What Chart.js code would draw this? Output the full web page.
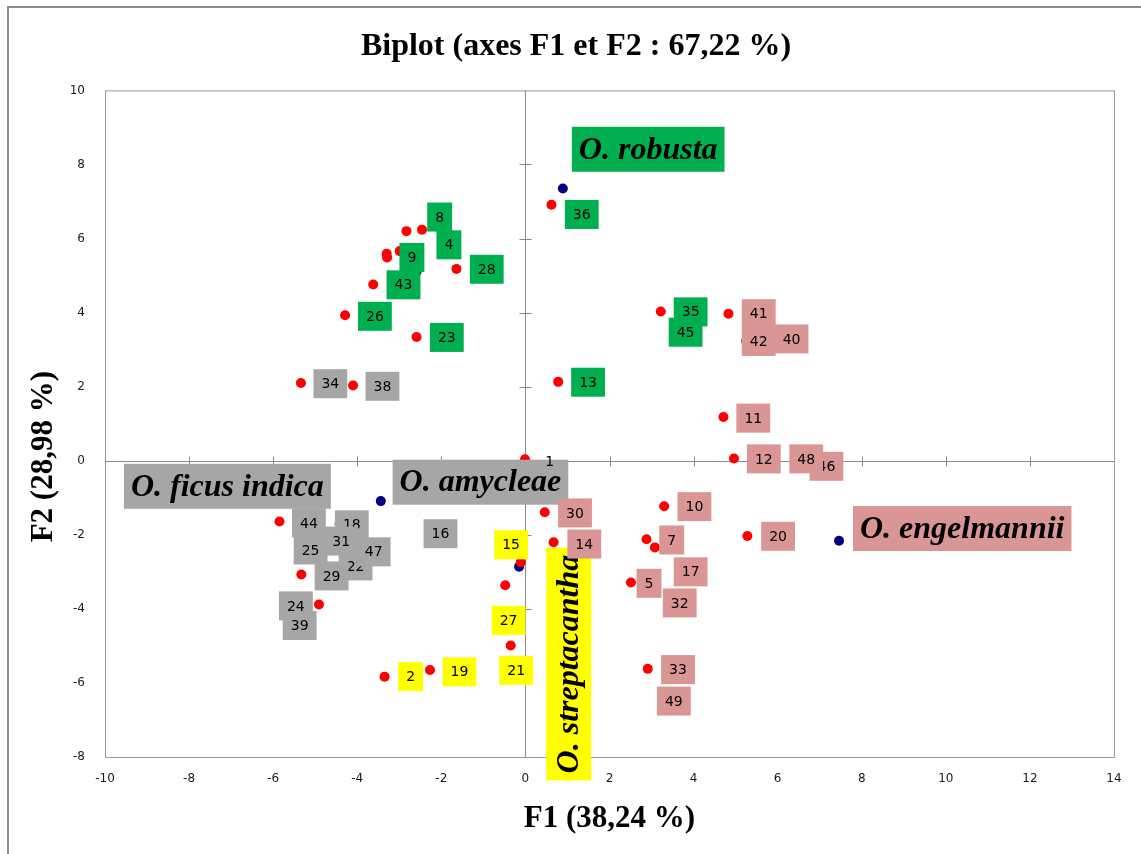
<!DOCTYPE html>
<html>
<head>
<meta charset="utf-8">
<title>Biplot (axes F1 et F2)</title>
<script src="https://cdn.jsdelivr.net/npm/chart.js@4.4.1/dist/chart.umd.min.js"></script>
<style>
  html, body { margin: 0; padding: 0; background: #fff; }
  #wrap { width: 1141px; height: 854px; position: relative; }
</style>
</head>
<body>
<div id="wrap"><canvas id="biplot"></canvas></div>
<script>
const xTicks = [-10, -8, -6, -4, -2, 0, 2, 4, 6, 8, 10, 12, 14]
const yTicks = [-8, -6, -4, -2, 0, 2, 4, 6, 8, 10]

// observations, grouped by species colour (draw order = label stacking order)
const robustaObs   = ['6', '37', '8', '4', '9', '43', '28', '26', '23', '36', '35', '45', '13']
const robustaF1    = [-2.46, -3.30, -2.83, -2.99, -3.29, -3.62, -1.64, -4.29, -2.59, 0.62, 3.22, 3.58, 0.78]
const robustaF2    = [6.24, 5.59, 6.20, 5.66, 5.49, 4.76, 5.18, 3.93, 3.34, 6.91, 4.03, 3.42, 2.13]
const robustaLblF1 = [-1.88, -2.59, -2.04, -1.82, -2.70, -2.90, -0.92, -3.58, -1.87, 1.34, 3.93, 3.81, 1.49]
const robustaLblF2 = [6.14, 5.14, 6.58, 5.83, 5.49, 4.75, 5.17, 3.90, 3.33, 6.65, 4.02, 3.47, 2.12]

const ficusObs   = ['18', '22', '44', '31', '25', '47', '29', '24', '39', '34', '38', '16', '1']
const ficusF1    = [-4.42, -4.27, -5.85, -4.65, -5.37, -3.85, -5.33, -4.91, -5.46, -5.34, -4.10, -2.23, -0.01]
const ficusF2    = [-1.71, -2.84, -1.64, -2.17, -2.39, -2.44, -3.07, -3.88, -4.41, 2.10, 2.03, -1.98, 0.04]
const ficusLblF1 = [-4.13, -4.04, -5.15, -4.38, -5.11, -3.61, -4.61, -5.46, -5.37, -4.64, -3.40, -2.02, 0.58]
const ficusLblF2 = [-1.73, -2.84, -1.68, -2.17, -2.41, -2.46, -3.11, -3.92, -4.45, 2.08, 2.01, -1.97, -0.03]

const engelObs   = ['30', '14', '40', '41', '42', '11', '12', '46', '48', '10', '7', '17', '5', '32', '20', '33', '49']
const engelF1    = [0.46, 0.67, 6.18, 4.83, 5.25, 4.71, 4.96, 6.92, 6.44, 3.30, 2.88, 3.08, 2.51, 3.44, 5.28, 2.91, 3.32]
const engelF2    = [-1.39, -2.20, 3.28, 3.97, 3.23, 1.18, 0.06, -0.15, 0.04, -1.23, -2.12, -2.34, -3.29, -3.82, -2.03, -5.62, -6.46]
const engelLblF1 = [1.18, 1.40, 6.33, 5.55, 5.55, 5.42, 5.67, 7.16, 6.68, 4.02, 3.48, 3.93, 2.94, 3.67, 6.01, 3.63, 3.53]
const engelLblF2 = [-1.41, -2.25, 3.29, 3.97, 3.22, 1.15, 0.05, -0.15, 0.05, -1.24, -2.14, -3.00, -3.31, -3.84, -2.04, -5.64, -6.49]

const streptObs   = ['15', '27', '21', '19', '2']
const streptF1    = [-0.11, -0.48, -0.35, -2.27, -3.35]
const streptF2    = [-2.74, -3.36, -4.99, -5.65, -5.83]
const streptLblF1 = [-0.34, -0.40, -0.22, -1.57, -2.73]
const streptLblF2 = [-2.27, -4.31, -5.66, -5.70, -5.83]

// species (centroids)
const species      = ['O. ficus indica', 'O. amycleae', 'O. robusta', 'O. streptacantha', 'O. engelmannii']
const speciesF1    = [-4.46, -3.44, 0.89, -0.15, 7.46]
const speciesF2    = [-2.03, -1.09, 7.35, -2.86, -2.16]
const speciesLblF1 = [-7.09, -1.07, 2.92, 1.03, 10.39]
const speciesLblF2 = [-0.69, -0.58, 8.41, -5.49, -1.83]

const GREEN = '#00b050'
const GREY = '#a6a6a6'
const PINK = '#d99694'
const YELLOW = '#ffff00'

const speciesFill = [GREY, GREY, GREEN, YELLOW, PINK]
const textOnly = ['1', '6', '37']

const obsGroups = [
  { ids: robustaObs, f1: robustaF1, f2: robustaF2, lx: robustaLblF1, ly: robustaLblF2, fill: GREEN },
  { ids: ficusObs, f1: ficusF1, f2: ficusF2, lx: ficusLblF1, ly: ficusLblF2, fill: GREY },
  { ids: engelObs, f1: engelF1, f2: engelF2, lx: engelLblF1, ly: engelLblF2, fill: PINK },
  { ids: streptObs, f1: streptF1, f2: streptF2, lx: streptLblF1, ly: streptLblF2, fill: YELLOW }
]

const toPoints = (xs, ys) => xs.map((x, i) => ({ x: x, y: ys[i] }))

function drawTag(ctx, text, cx, cy, fill) {
  ctx.font = '14px "DejaVu Sans"'
  const w = ctx.measureText(text).width + 16
  const h = 29
  if (fill) {
    ctx.fillStyle = fill
    ctx.fillRect(cx - w / 2, cy - h / 2, w, h)
  }
  ctx.fillStyle = '#000'
  ctx.textAlign = 'center'
  ctx.textBaseline = 'middle'
  ctx.fillText(text, cx, cy + 1)
}

function drawSpecies(ctx, text, cx, cy, fill, vertical) {
  ctx.save()
  ctx.font = 'italic bold 32px "Liberation Serif"'
  const w = ctx.measureText(text).width + 14
  const h = 45
  ctx.translate(cx, cy)
  if (vertical) ctx.rotate(-Math.PI / 2)
  ctx.fillStyle = fill
  ctx.fillRect(-w / 2, -h / 2, w, h)
  ctx.fillStyle = '#000'
  ctx.textAlign = 'center'
  ctx.textBaseline = 'middle'
  ctx.fillText(text, 0, 1)
  ctx.restore()
}

const biplotDecor = {
  id: 'biplotDecor',
  beforeDraw(chart) {
    const ctx = chart.ctx
    ctx.save()
    ctx.strokeStyle = '#8c8c8c'
    ctx.lineWidth = 2
    ctx.beginPath()
    ctx.moveTo(8, chart.height)
    ctx.lineTo(8, 7)
    ctx.lineTo(chart.width, 7)
    ctx.stroke()
    ctx.restore()
  },
  beforeDatasetsDraw(chart) {
    const { ctx, chartArea: a, scales: { x, y } } = chart
    ctx.save()
    ctx.strokeStyle = '#9a9a9a'
    ctx.lineWidth = 1
    ctx.strokeRect(a.left + 0.5, a.top + 0.5, a.right - a.left, a.bottom - a.top)
    const x0 = Math.round(x.getPixelForValue(0)) + 0.5
    const y0 = Math.round(y.getPixelForValue(0)) + 0.5
    ctx.strokeStyle = '#8a8a8a'
    ctx.beginPath()
    ctx.moveTo(x0, a.top); ctx.lineTo(x0, a.bottom)
    ctx.moveTo(a.left, y0); ctx.lineTo(a.right, y0)
    xTicks.forEach(v => {
      const px = Math.round(x.getPixelForValue(v)) + 0.5
      if (px <= a.left + 1 || px >= a.right - 1) return
      ctx.moveTo(px, y0 - 5); ctx.lineTo(px, y0 + 5)
    })
    yTicks.forEach(v => {
      const py = Math.round(y.getPixelForValue(v)) + 0.5
      if (py <= a.top + 1 || py >= a.bottom - 1) return
      ctx.moveTo(x0 - 6, py); ctx.lineTo(x0 + 6, py)
    })
    ctx.stroke()
    ctx.restore()
  },
  afterDatasetsDraw(chart) {
    const { ctx, scales: { x, y } } = chart
    ctx.save()
    species.forEach((name, i) => {
      drawSpecies(ctx, name, x.getPixelForValue(speciesLblF1[i]), y.getPixelForValue(speciesLblF2[i]),
        speciesFill[i], name === 'O. streptacantha')
    })
    obsGroups.forEach(g => {
      g.ids.forEach((id, i) => {
        drawTag(ctx, id, x.getPixelForValue(g.lx[i]), y.getPixelForValue(g.ly[i]),
          textOnly.includes(id) ? null : g.fill)
      })
    })
    ctx.restore()
  },
  afterDraw(chart) {
    const { ctx, chartArea: a } = chart
    ctx.save()
    ctx.translate(44, (a.top + a.bottom) / 2 + 33)
    ctx.rotate(-Math.PI / 2)
    ctx.font = 'bold 31px "Liberation Serif"'
    ctx.fillStyle = '#000'
    ctx.textAlign = 'center'
    ctx.textBaseline = 'middle'
    ctx.fillText('F2 (28,98 %)', 0, 0)
    ctx.restore()
  }
}

const obsDatasets = obsGroups.map(g => ({
  label: g.ids.join(','),
  data: toPoints(g.f1, g.f2),
  pointRadius: 5,
  pointBackgroundColor: '#ff0000',
  pointBorderWidth: 0,
  showLine: false
}))

const tickFont = { family: 'DejaVu Sans', size: 12 }

new Chart(document.getElementById('biplot'), {
  type: 'scatter',
  data: {
    datasets: [
      ...obsDatasets,
      {
        label: 'Species',
        data: toPoints(speciesF1, speciesF2),
        pointRadius: 5,
        pointBackgroundColor: '#000080',
        pointBorderWidth: 0,
        showLine: false
      }
    ]
  },
  options: {
    responsive: true,
    maintainAspectRatio: false,
    animation: false,
    layout: { padding: { left: 38, right: 27, top: 0, bottom: 0 } },
    scales: {
      x: {
        type: 'linear',
        min: -10,
        max: 14,
        afterBuildTicks: s => { s.ticks = xTicks.map(v => ({ value: v })) },
        afterFit: s => { s.height = 97 },
        grid: { display: false, drawTicks: false },
        border: { display: false },
        ticks: { font: tickFont, color: '#1a1a1a', padding: 15 },
        title: {
          display: true,
          text: 'F1 (38,24 %)',
          color: '#000',
          font: { family: 'Liberation Serif', size: 31, weight: 'bold' },
          padding: { top: 0, bottom: 16 }
        }
      },
      y: {
        type: 'linear',
        min: -8,
        max: 10,
        afterBuildTicks: s => { s.ticks = yTicks.map(v => ({ value: v })) },
        afterFit: s => { s.width = 67 },
        grid: { display: false, drawTicks: false },
        border: { display: false },
        ticks: { font: tickFont, color: '#1a1a1a', padding: 20 }
      }
    },
    plugins: {
      legend: { display: false },
      tooltip: { enabled: false },
      title: {
        display: true,
        text: 'Biplot (axes F1 et F2 : 67,22 %)',
        color: '#000',
        font: { family: 'Liberation Serif', size: 32, weight: 'bold' },
        padding: { top: 28, bottom: 24 }
      }
    }
  },
  plugins: [biplotDecor]
})
</script>
</body>
</html>
